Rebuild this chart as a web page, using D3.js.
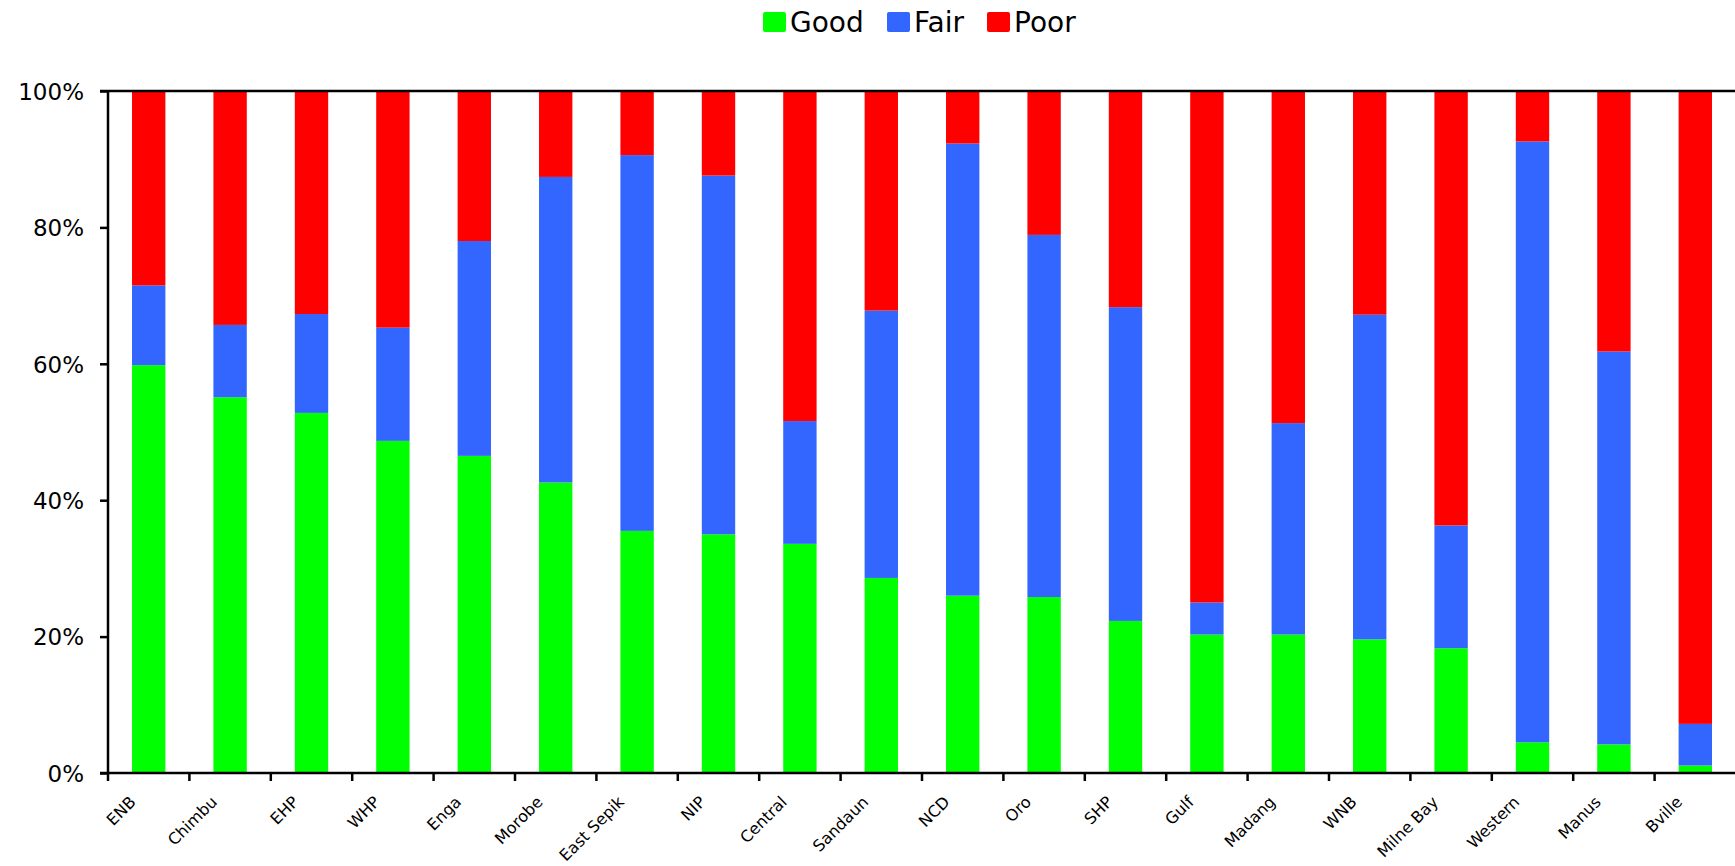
<!DOCTYPE html>
<html lang="en">
<head>
    <meta charset="UTF-8" />
    <title>Condition by province</title>
    <script src="https://d3js.org/d3.v7.min.js"></script>
    <style>
        body { margin: 0; background: #fff; }
        text { font-family: "DejaVu Sans", Verdana, sans-serif; fill: #000; }
    </style>
</head>
<body>
    <div id="chart"></div>
    <script>
// values (percent of each province)
var provinces = ["ENB", "Chimbu", "EHP", "WHP", "Enga", "Morobe", "East Sepik", "NIP", "Central", "Sandaun",
                 "NCD", "Oro", "SHP", "Gulf", "Madang", "WNB", "Milne Bay", "Western", "Manus", "Bville"];
var good = [59.8, 55.1, 52.8, 48.7, 46.5, 42.6, 35.5, 35.0, 33.6, 28.6, 26.0, 25.8, 22.3, 20.3, 20.3, 19.6, 18.3, 4.5, 4.2, 1.1];
var fair = [11.7, 10.6, 14.5, 16.6, 31.5, 44.8, 55.1, 52.6, 18.0, 39.2, 66.3, 53.1, 46.0, 4.7, 31.0, 47.6, 18.0, 88.1, 57.6, 6.1];
var poor = [28.5, 34.3, 32.7, 34.7, 22.0, 12.6, 9.4, 12.4, 48.4, 32.2, 7.7, 21.1, 31.7, 75.0, 48.7, 32.8, 63.7, 7.4, 38.2, 92.8];
var seriesNames = ["Good", "Fair", "Poor"];
var seriesColors = ["#00ff00", "#3366ff", "#ff0000"];
var yTicks = [0, 20, 40, 60, 80, 100];

var width = 1735, height = 866;
var plotLeft = 108, plotTop = 91, plotBottom = 773, plotRight = 1736;

var svg = d3.select("#chart").append("svg")
    .attr("width", width)
    .attr("height", height);

var rows = provinces.map(function(p, i) {
    return { name: p, Good: good[i], Fair: fair[i], Poor: poor[i] };
});
var stacked = d3.stack().keys(seriesNames)(rows);

var x = d3.scaleBand().domain(provinces).range([plotLeft, plotRight]).padding(0);
var y = d3.scaleLinear().domain([0, 100]).range([plotBottom, plotTop]);
var color = d3.scaleOrdinal().domain(seriesNames).range(seriesColors);
var barW = x.bandwidth() * 0.41;

// bars
svg.append("g").selectAll("g")
    .data(stacked)
    .enter().append("g")
    .attr("fill", function(d) { return color(d.key); })
    .selectAll("rect")
    .data(function(d) { return d; })
    .enter().append("rect")
    .attr("x", function(d) { return x(d.data.name) + (x.bandwidth() - barW) / 2; })
    .attr("y", function(d) { return y(d[1]); })
    .attr("width", barW)
    .attr("height", function(d) { return y(d[0]) - y(d[1]); });

// y axis
var yAxis = svg.append("g")
    .attr("transform", "translate(" + plotLeft + ",0)")
    .call(d3.axisLeft(y).tickValues(yTicks).tickSize(8).tickFormat(function(d) { return d + "%"; }));
yAxis.select(".domain").attr("stroke", "#000").attr("stroke-width", 2.5).attr("d", "M0," + plotTop + "V" + plotBottom);
yAxis.selectAll(".tick line").attr("stroke-width", 2.5);
yAxis.selectAll(".tick text").attr("x", -24).attr("dy", "0.36em")
    .style("font-size", "23px").style("font-family", "DejaVu Sans, sans-serif");

// top line at 100%
svg.append("line")
    .attr("x1", plotLeft - 8).attr("x2", plotRight)
    .attr("y1", y(100)).attr("y2", y(100))
    .attr("stroke", "#000").attr("stroke-width", 2.5);

// x axis, ticks sit at the category boundaries
var xAxis = svg.append("g")
    .attr("transform", "translate(0," + plotBottom + ")")
    .call(d3.axisBottom(x).tickSize(0).tickFormat(""));
xAxis.select(".domain").attr("stroke", "#000").attr("stroke-width", 2.5).attr("d", "M" + (plotLeft - 8) + ",0H" + plotRight);

svg.append("g").selectAll("line")
    .data(provinces)
    .enter().append("line")
    .attr("x1", function(d) { return x(d); })
    .attr("x2", function(d) { return x(d); })
    .attr("y1", plotBottom).attr("y2", plotBottom + 8)
    .attr("stroke", "#000").attr("stroke-width", 2.5);

svg.append("g").selectAll("text")
    .data(provinces)
    .enter().append("text")
    .attr("transform", function(d) {
        return "translate(" + (x(d) + x.bandwidth() / 2 - 12) + "," + (plotBottom + 30) + ") rotate(-45)";
    })
    .attr("text-anchor", "end")
    .style("font-size", "16px")
    .text(function(d) { return d; });

// legend
var legend = svg.append("g").attr("transform", "translate(763,12)");
var legX = [0, 124, 224];
seriesNames.forEach(function(s, i) {
    var g = legend.append("g").attr("transform", "translate(" + legX[i] + ",0)");
    g.append("rect")
        .attr("width", 23).attr("height", 20).attr("rx", 2)
        .attr("fill", color(s));
    g.append("text")
        .attr("x", 27).attr("y", 20)
        .style("font-size", "28px")
        .text(s);
});
    </script>
</body>
</html>
